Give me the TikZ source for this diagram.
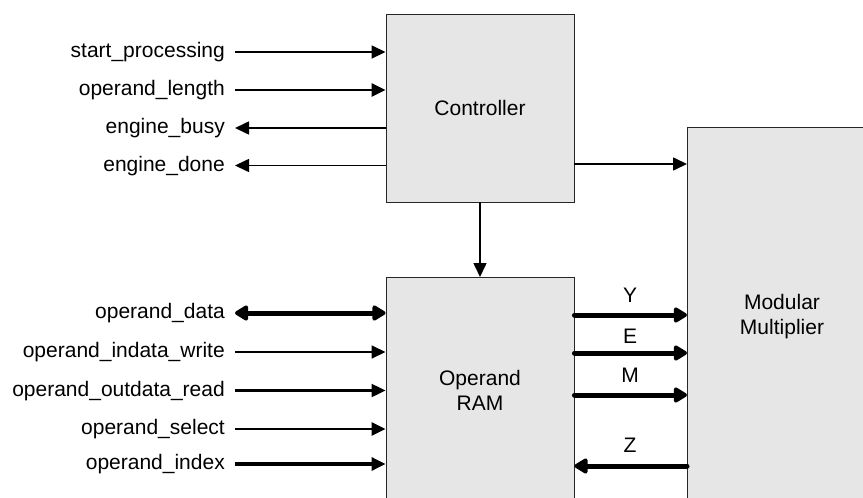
\documentclass[tikz,border=0pt]{standalone}
\usepackage{fontspec}
\setmainfont{Liberation Sans}
\usetikzlibrary{arrows.meta}

\definecolor{blockfill}{HTML}{E6E6E6}

\begin{document}
\begin{tikzpicture}[x=1pt,y=-1pt,
  font=\fontsize{21}{25}\selectfont,
  block/.style={draw=black!85, line width=0.9pt, fill=blockfill, inner sep=0pt, minimum width=188pt},
  lbl/.style={inner sep=0pt, text height=15pt, text depth=4pt},
  btext/.style={inner sep=0pt, align=center},
  sig/.style={line width=#1, -{Triangle[length=14pt,width=13pt]}},
  sig/.default=1.6pt,
  bus/.style={line width=5pt, line cap=round, -{Triangle[length=15pt,width=17pt,round]}},
  busboth/.style={line width=5pt, {Triangle[length=15pt,width=17pt,round]}-{Triangle[length=15pt,width=17pt,round]}}
]
\useasboundingbox (0,0) rectangle (863,498);
\clip (0,0) rectangle (863,498);

% blocks
\node[block, minimum height=188pt] (ctrl) at (480,108) {Controller};
\node[block, minimum height=260pt, anchor=north] (ram) at (480,277) {};
\node[btext] (ramtext) at (480,390) {Operand\\RAM};
\node[block, minimum width=200pt, minimum height=400pt, anchor=north west] (mm) at (687,127) {};
\node[btext] (mmtext) at (782,317) {Modular\\Multiplier};

% controller ports
\node[lbl, anchor=east] (sp) at (225,52) {start\_processing};
\node[lbl, anchor=east] (ol) at (225,90) {operand\_length};
\node[lbl, anchor=east] (eb) at (225,128) {engine\_busy};
\node[lbl, anchor=east] (ed) at (225,165.5) {engine\_done};

\draw[sig] ([xshift=10pt]sp.east) -- (sp.east -| ctrl.west);
\draw[sig=2.6pt] ([xshift=10pt]ol.east) -- (ol.east -| ctrl.west);
\draw[sig] (eb.east -| ctrl.west) -- ([xshift=10pt]eb.east);
\draw[sig] (ed.east -| ctrl.west) -- ([xshift=10pt]ed.east);

% operand RAM ports
\node[lbl, anchor=east] (od) at (225,313) {operand\_data};
\node[lbl, anchor=east] (ow) at (225,352) {operand\_indata\_write};
\node[lbl, anchor=east] (orr) at (225,390.5) {operand\_outdata\_read};
\node[lbl, anchor=east] (os) at (225,429) {operand\_select};
\node[lbl, anchor=east] (oi) at (225,464) {operand\_index};

\draw[busboth] ([xshift=10pt]od.east) -- (od.east -| ram.west);
\draw[sig] ([xshift=10pt]ow.east) -- (ow.east -| ram.west);
\draw[sig=2.2pt] ([xshift=10pt]orr.east) -- (orr.east -| ram.west);
\draw[sig=2.9pt] ([xshift=10pt]os.east) -- (os.east -| ram.west);
\draw[sig=3.2pt] ([xshift=10pt]oi.east) -- (oi.east -| ram.west);

% internal connections
\draw[sig] (ctrl.south) -- (ram.north);
\draw[sig] ([yshift=-56pt]ctrl.east) coordinate (c2m) -- (c2m -| mm.west);

% operand buses
\node[inner sep=0pt] (ly) at (630,295) {Y};
\node[inner sep=0pt] (le) at (630,336.5) {E};
\node[inner sep=0pt] (lm) at (630,375) {M};
\node[inner sep=0pt] (lz) at (630,445) {Z};

\draw[bus] (ram.east |- 0,315) -- (mm.west |- 0,315);
\draw[bus] (ram.east |- 0,353) -- (mm.west |- 0,353);
\draw[bus] (ram.east |- 0,395) -- (mm.west |- 0,395);
\draw[bus] (mm.west |- 0,466) -- (ram.east |- 0,466);
\end{tikzpicture}
\end{document}
